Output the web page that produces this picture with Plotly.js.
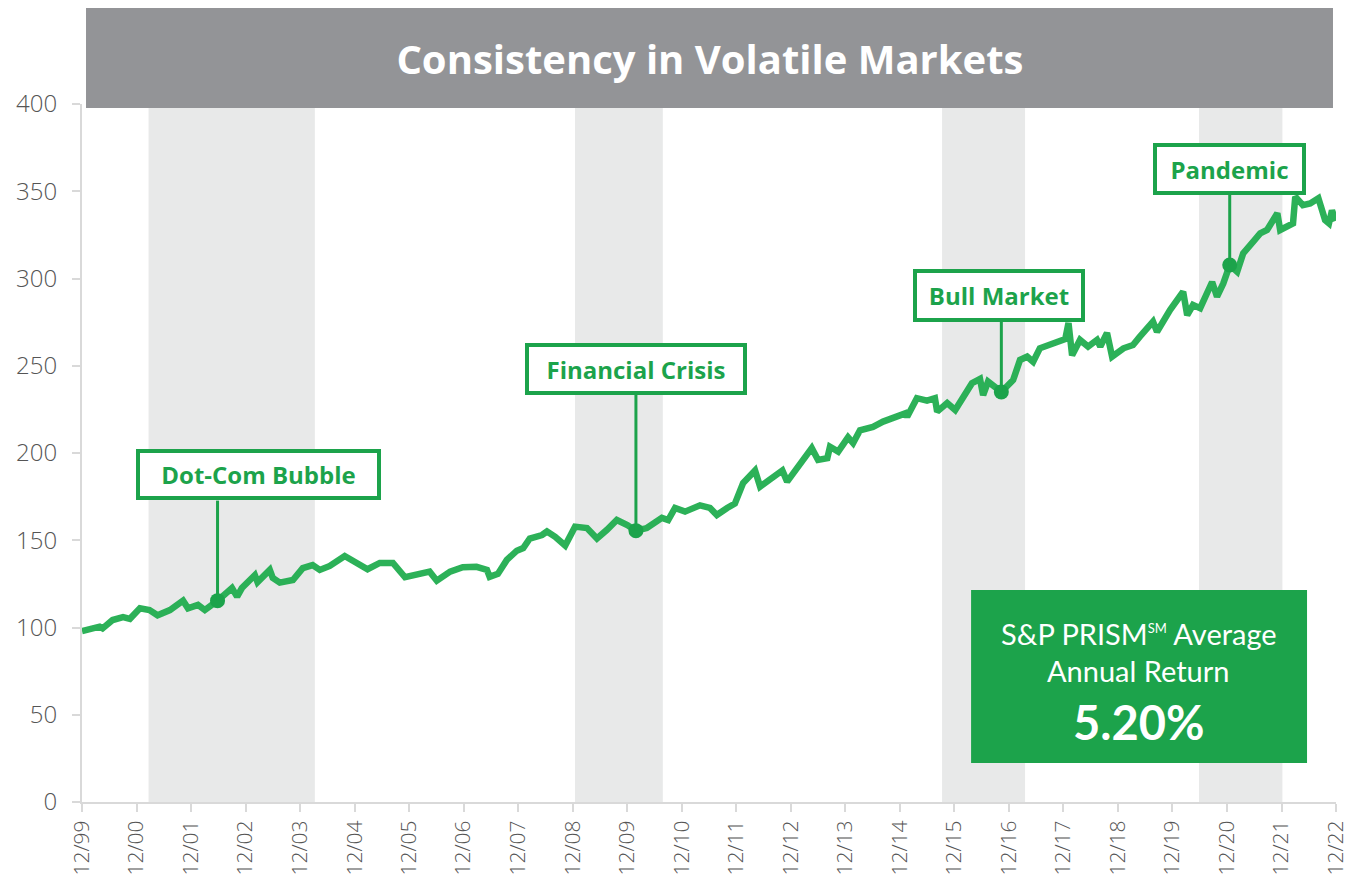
<!DOCTYPE html>
<html>
<head>
<meta charset="utf-8">
<script src="https://cdn.plot.ly/plotly-3.0.1.min.js"></script>
<style>
  html, body { margin: 0; padding: 0; background: #ffffff; }
  #chart { width: 1360px; height: 875px; }
</style>
</head>
<body>
<div id="chart"></div>
<script>
// ---- Data ----
const dates = [
  '2000-01-01','2000-04-28','2000-05-18','2000-07-24','2000-10-02','2000-11-17',
  '2001-01-23','2001-03-28','2001-05-21','2001-08-12','2001-11-08','2001-12-11',
  '2002-02-16','2002-04-03','2002-06-27','2002-10-02','2002-11-05','2002-12-07',
  '2003-03-04','2003-03-22','2003-06-12','2003-07-02','2003-08-18','2003-11-14',
  '2004-01-19','2004-03-25','2004-05-12','2004-07-18','2004-10-26',
  '2005-01-16','2005-03-28','2005-06-18','2005-09-14','2005-12-04',
  '2006-02-22','2006-05-18','2006-07-05','2006-10-02','2006-12-26',
  '2007-03-28','2007-06-06','2007-06-24','2007-08-18','2007-10-17','2007-12-23',
  '2008-02-04','2008-03-19','2008-06-09','2008-07-12','2008-09-05','2008-11-11',
  '2009-01-16','2009-04-06','2009-06-12','2009-08-18','2009-10-23',
  '2010-01-01','2010-02-28','2010-05-12','2010-08-21','2010-10-02','2010-11-17',
  '2011-01-23','2011-05-03','2011-07-09','2011-08-24','2011-11-01','2011-12-23',
  '2012-02-16','2012-05-06','2012-06-09','2012-09-05','2012-11-05','2012-12-07',
  '2013-03-04','2013-05-21','2013-07-02','2013-09-02','2013-09-20','2013-11-14',
  '2014-01-19','2014-02-22','2014-04-09','2014-07-05','2014-09-11','2014-12-01',
  '2015-02-07','2015-02-19','2015-04-25','2015-07-02','2015-08-24','2015-09-08',
  '2015-11-14','2016-01-07','2016-02-28','2016-04-28','2016-06-21','2016-07-12',
  '2016-08-14','2016-11-11','2017-01-29','2017-03-16','2017-05-03','2017-06-12',
  '2017-07-27','2017-10-23','2018-01-13','2018-02-04','2018-02-28','2018-04-22',
  '2018-06-15','2018-08-14','2018-09-05','2018-10-20','2018-11-23','2019-02-07',
  '2019-04-12','2019-05-28','2019-07-15','2019-08-24','2019-09-20','2019-11-01',
  '2019-12-17','2020-03-13','2020-04-09','2020-05-18','2020-07-05','2020-09-23',
  '2020-10-26','2020-12-07','2021-01-19','2021-03-10','2021-04-19','2021-06-24',
  '2021-08-11','2021-09-26','2021-12-04','2021-12-23','2022-02-10','2022-03-19',
  '2022-04-03','2022-05-24','2022-07-12','2022-09-05','2022-10-20','2022-11-15',
  '2022-12-05','2022-12-31'
];
const values = [
  98, 100.5, 99.5, 104.3, 106, 105,
  111, 110, 107, 110, 115.4, 111,
  113, 110, 115.4, 122.6, 117.7, 122.6,
  130, 126, 133, 128.4, 125.7, 127.2,
  134, 135.8, 133, 135.3, 141,
  136.8, 133.4, 137, 137, 128.8,
  130, 132, 126.8, 132, 134.5,
  134.8, 133, 129, 130.7, 138.7, 144,
  145.5, 151, 153, 155, 152, 147,
  157.8, 157, 151, 156, 161.6,
  158.7, 155.5, 157, 162.8, 161.6, 168.5,
  166.4, 170, 168.5, 164.5, 168.5, 171,
  182.8, 190, 180.7, 186.4, 190, 183.6,
  194, 202.8, 196, 197, 203.6, 200.8,
  209, 205.7, 213, 215, 218, 220.8,
  222.7, 220.8, 231.4, 230, 231.4, 223.7,
  228.6, 224.6, 232.3, 240, 242.4, 233.2,
  240.9, 235, 241.8, 253.3, 255.2, 252.3,
  260, 263, 265.3, 274.5, 256, 264.8,
  261, 264.8, 261, 268.8, 255.2, 260,
  261.9, 266.7, 271.6, 275.3, 269.5, 276.2,
  282, 292.4, 279, 284.8, 283, 298,
  289.6, 297.2, 307.7, 303.9, 314.4, 321,
  325.9, 327.8, 337.4, 327.8, 329.7, 331.6,
  346.9, 342, 343, 346, 333.5, 331.6,
  339, 333
];

const tickDates = ['2000-01-01','2001-01-01','2002-01-01','2003-01-01','2004-01-01','2005-01-01',
  '2006-01-01','2007-01-01','2008-01-01','2009-01-01','2010-01-01','2011-01-01','2012-01-01',
  '2013-01-01','2014-01-01','2015-01-01','2016-01-01','2017-01-01','2018-01-01','2019-01-01',
  '2020-01-01','2021-01-01','2022-01-01','2023-01-01'];
const tickLabels = ['12/99','12/00','12/01','12/02','12/03','12/04','12/05','12/06','12/07',
  '12/08','12/09','12/10','12/11','12/12','12/13','12/14','12/15','12/16','12/17','12/18',
  '12/19','12/20','12/21','12/22'];

const bandStarts = ['2001-03-22','2009-01-16','2015-10-11','2020-06-27'];
const bandEnds   = ['2004-04-09','2010-08-27','2017-04-19','2022-01-07'];

const eventNames  = ['Dot-Com Bubble','Financial Crisis','Bull Market','Pandemic'];
const eventDates  = ['2002-06-27','2010-02-28','2016-11-11','2021-01-19'];
const eventValues = [115.4, 155.5, 235, 307.7];

const titleText = 'Consistency in Volatile Markets';
const boxLine1 = 'S&P PRISM<sup><span style="font-size:13px">SM</span></sup> Average';
const boxLine2 = 'Annual Return';
const boxValue = '5.20%';

// ---- Styles ----
const GREEN = '#1ca34b';
const FONT = 'Lato, "Open Sans", sans-serif';
const WIDE = '"Open Sans", Lato, sans-serif';
// label box layout (pixels): xshift, yshift, inner width, inner height, connector length
const labelLayout = [
  {xs: 41, ys: 126, w: 237, h: 43, len: 100},
  {xs: 0,  ys: 161.5, w: 214, h: 44, len: 136},
  {xs: -2, ys: 96,  w: 164, h: 45, len: 71},
  {xs: 0,  ys: 96.5, w: 145, h: 44, len: 71}
];

const shapes = [];
bandStarts.forEach((s, i) => {
  shapes.push({type: 'rect', xref: 'x', yref: 'paper', x0: s, x1: bandEnds[i], y0: 0, y1: 1,
    fillcolor: '#e8e9e9', line: {width: 0}, layer: 'below'});
});
// title bar
shapes.push({type: 'rect', xref: 'paper', yref: 'paper', x0: 0.0032, x1: 0.9976, y0: 0.9943, y1: 1.1375,
  fillcolor: '#939497', line: {width: 0}, layer: 'above'});
// summary box
shapes.push({type: 'rect', xref: 'paper', yref: 'paper', x0: 0.709, x1: 0.9769, y0: 0.0559, y1: 0.3037,
  fillcolor: '#1ca34b', line: {width: 0}, layer: 'above'});
// connectors
eventDates.forEach((d, i) => {
  shapes.push({type: 'line', xref: 'x', yref: 'y', x0: d, x1: d, ysizemode: 'pixel',
    yanchor: eventValues[i], y0: 0, y1: labelLayout[i].len,
    line: {color: GREEN, width: 3}, layer: 'above'});
});

const annotations = eventNames.map((n, i) => ({
  xref: 'x', yref: 'y', x: eventDates[i], y: eventValues[i],
  text: '<b>' + n + '</b>', showarrow: false,
  xshift: labelLayout[i].xs, yshift: labelLayout[i].ys,
  width: labelLayout[i].w, height: labelLayout[i].h,
  bgcolor: '#ffffff', bordercolor: GREEN, borderwidth: 4, borderpad: 0,
  font: {family: WIDE, size: 24, color: GREEN}
}));
annotations.push(
  {xref: 'paper', yref: 'paper', x: 0.8429, y: 0.2421, text: boxLine1, showarrow: false,
   font: {family: FONT, size: 29, color: '#ffffff'}, xanchor: 'center', yanchor: 'middle'},
  {xref: 'paper', yref: 'paper', x: 0.8429, y: 0.1891, text: boxLine2, showarrow: false,
   font: {family: FONT, size: 29, color: '#ffffff'}, xanchor: 'center', yanchor: 'middle'},
  {xref: 'paper', yref: 'paper', x: 0.8429, y: 0.1146, text: '<b>' + boxValue + '</b>', showarrow: false,
   font: {family: FONT, size: 47, color: '#ffffff'}, xanchor: 'center', yanchor: 'middle'}
);

const traces = [
  {x: dates, y: values, type: 'scatter', mode: 'lines',
   line: {color: 'rgba(26,170,74,0.92)', width: 6.5, shape: 'linear'}, hoverinfo: 'x+y'},
  {x: eventDates, y: eventValues, type: 'scatter', mode: 'markers',
   marker: {color: GREEN, size: 15}, hoverinfo: 'skip'}
];

const layout = {
  width: 1360, height: 875,
  margin: {l: 82, r: 24, t: 104, b: 73},
  paper_bgcolor: '#ffffff', plot_bgcolor: 'rgba(0,0,0,0)',
  showlegend: false,
  title: {text: '<b>' + titleText + '</b>', x: 0.522, xanchor: 'center', y: 0.931, yanchor: 'middle',
    font: {family: WIDE, size: 40, color: '#ffffff'}},
  xaxis: {type: 'date', range: ['2000-01-01', '2023-01-01'], tickmode: 'array',
    tickvals: tickDates, ticktext: tickLabels, tickangle: -90,
    showgrid: false, zeroline: false, showline: true, linecolor: '#d9d9d9', linewidth: 2,
    ticks: 'outside', ticklen: 8, tickwidth: 2, tickcolor: '#d9d9d9',
    tickfont: {family: WIDE, size: 21, color: '#555555', weight: 300}},
  yaxis: {range: [0, 400], dtick: 50, tick0: 0,
    showgrid: false, zeroline: false, showline: true, linecolor: '#d9d9d9', linewidth: 2,
    ticks: 'outside', ticklen: 8, tickwidth: 2, tickcolor: '#d9d9d9', ticklabelstandoff: 10,
    tickfont: {family: WIDE, size: 24, color: '#555555', weight: 300}},
  shapes: shapes,
  annotations: annotations
};

Plotly.newPlot('chart', traces, layout, {displayModeBar: false, responsive: false});
</script>
</body>
</html>
